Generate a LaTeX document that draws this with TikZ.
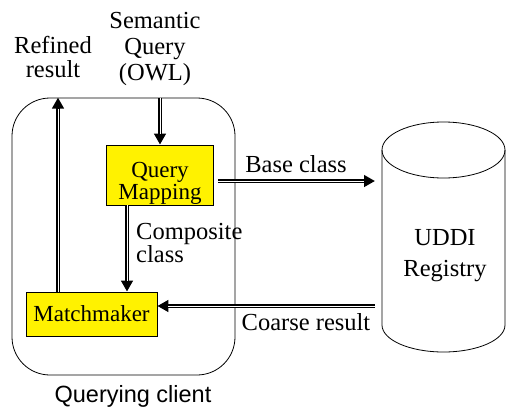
\documentclass[tikz,border=0pt]{standalone}
\usepackage{fontspec}
\setmainfont{Liberation Serif}
\newfontfamily\labelsans{Liberation Sans}
\usetikzlibrary{arrows.meta,calc}

\tikzset{
  txt/.style={inner sep=0pt, font=\fontsize{24.5}{26}\selectfont},
  proc/.style={draw=black, line width=0.8pt, fill=yellow, inner sep=0pt,
               font=\fontsize{23}{24}\selectfont, align=center},
  flow/.style={line width=4.6pt, -{Triangle[length=11pt,width=11.5pt]},
               postaction={draw=white, line width=0.6pt, -, shorten >=11pt}},
  outline/.style={draw=black, line width=0.8pt}
}

\begin{document}
\begin{tikzpicture}[x=1pt,y=-1pt]
  \useasboundingbox (0,0) rectangle (506,410);

  % querying client container
  \node[outline, rounded corners=38pt, minimum width=223pt, minimum height=277pt,
        inner sep=0pt] (client) at (123.5,236.5) {};
  \node[txt, anchor=base, font=\labelsans\fontsize{23.5}{26}\selectfont]
       (clientlbl) at (133,402) {Querying client};

  % processing boxes
  \node[proc, minimum width=107pt, minimum height=60pt] (qm) at (160,175)
       {\raisebox{-8pt}[\height][\depth]{\shortstack{Query\\[-1pt]Mapping}}};
  \node[proc, minimum width=131pt, minimum height=44pt] (mm) at (91.5,314)
       {Matchmaker};

  % UDDI registry cylinder
  \coordinate (cyl) at (443.5,150);
  \draw[outline] (382,150) -- (382,325)
     arc[start angle=180, end angle=360, x radius=61.5pt, y radius=27pt]
     -- (505,150);
  \draw[outline] (cyl) ellipse[x radius=61.5pt, y radius=28pt];
  \node[txt, anchor=base, align=center, font=\fontsize{24.5}{30.5}\selectfont]
       (reg) at (445,276) {UDDI\\Registry};

  % connector end points
  \coordinate (rx) at (58,0);
  \coordinate (cx) at (127,0);
  \coordinate (bstart) at (218,181);
  \coordinate (bend) at (375,181);
  \coordinate (cstart) at (375,306);

  % connectors
  \draw[flow] (mm.north -| rx) -- (client.north -| rx);
  \draw[flow] (client.north -| qm.north) -- (qm.north);
  \draw[flow] (qm.south -| cx) -- (mm.north -| cx);
  \draw[flow] (bstart) -- (bend);
  \draw[flow] (cstart) -- (cstart -| mm.east);

  % labels
  \node[txt, anchor=base, align=center, font=\fontsize{24.5}{23.5}\selectfont]
       (refined) at (53,77) {Refined\\result};
  \node[txt, anchor=base, align=center, font=\fontsize{24.5}{26}\selectfont]
       (semq) at (155,80.5) {Semantic\\Query\\(OWL)};
  \node[txt, anchor=base] (base) at (296,172) {Base class};
  \node[txt, anchor=base west, align=left, font=\fontsize{24.5}{22.5}\selectfont]
       (comp) at (136,262) {Composite\\class};
  \node[txt, anchor=base] (coarse) at (306,330) {Coarse result};
\end{tikzpicture}
\end{document}
